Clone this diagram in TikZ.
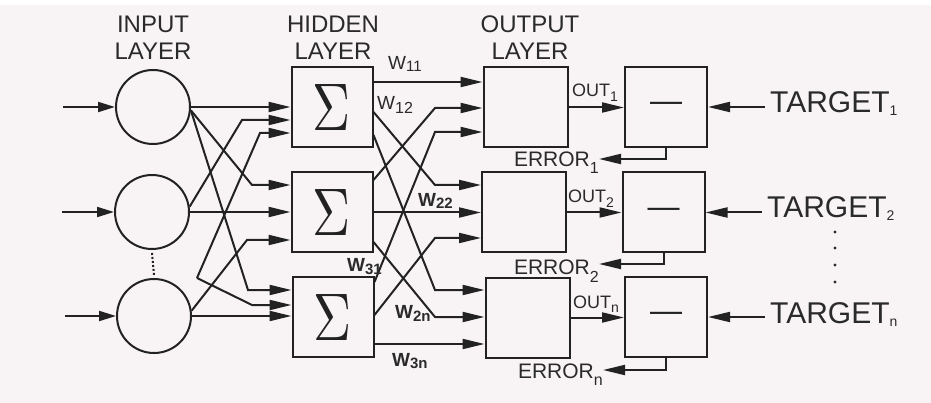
\documentclass[tikz,border=0pt]{standalone}
\usepackage[no-math]{fontspec}
\setmainfont{Liberation Sans}
\usetikzlibrary{arrows.meta}
\definecolor{bgc}{RGB}{248,244,245}
\definecolor{ink}{RGB}{34,34,34}
\definecolor{txt}{RGB}{42,42,42}
\newcommand\sbs[3]{\raisebox{-#2pt}{\fontsize{#1}{#1}\selectfont #3}}
\newcommand\Sg{\resizebox{38pt}{46pt}{$\Sigma$}}
\tikzset{
  ln/.style={draw=ink, line width=2pt},
  arr/.style={ln, -{Triangle[length=22pt,width=10pt]}},
  arrs/.style={ln, -{Triangle[length=17pt,width=10pt]}},
  inp/.style={ln, circle, minimum size=74pt, inner sep=0pt},
  hbox/.style={ln, rectangle, minimum width=81pt, minimum height=80pt, inner sep=0pt, text=ink},
  obox/.style={ln, rectangle, minimum width=84pt, minimum height=80pt, inner sep=0pt},
  sbox/.style={ln, rectangle, minimum width=82pt, minimum height=80pt, inner sep=0pt, text=ink, font=\fontsize{32}{32}\selectfont},
  lay/.style={font=\fontsize{24}{27}\selectfont, text=txt, align=center, inner sep=0pt, anchor=north},
  wl/.style={font=\fontsize{19}{19}\selectfont, text=txt, inner sep=0pt, anchor=base west},
  wlb/.style={wl, font=\fontsize{19}{19}\selectfont\bfseries},
  ol/.style={font=\fontsize{18}{18}\selectfont, text=txt, inner sep=0pt, anchor=base west},
  el/.style={font=\fontsize{21}{21}\selectfont, text=txt, inner sep=0pt, anchor=base east},
  tl/.style={font=\fontsize{30}{30}\selectfont, text=txt, inner xsep=5pt, inner ysep=0pt, anchor=base west},
}
\begin{document}
\begin{tikzpicture}[x=1pt,y=-1pt]
\fill[bgc] (0,0) rectangle (931,403);
\fill[white] (0,0) rectangle (931,5);
\useasboundingbox (0,0) rectangle (931,403);

% layer titles
\node[lay] (tin) at (153,15.5) {INPUT\\LAYER};
\node[lay] (thid) at (333,15.5) {HIDDEN\\LAYER};
\node[lay] (tout) at (530,15.5) {OUTPUT\\LAYER};

% input neurons
\node[inp] (c1) at (153,107) {};
\node[inp] (c2) at (152,212) {};
\node[inp] (c3) at (154,316) {};
\draw[ink, line width=2pt, dotted] ([yshift=-3pt]c2.south) -- ([yshift=3pt]c3.north);

% hidden layer
\node[hbox] (h1) at (332,107.5) {\Sg};
\node[hbox] (h2) at (332,212.5) {\Sg};
\node[hbox] (h3) at (333,317) {\Sg};

% output layer
\node[obox] (o1) at (525.5,107.5) {};
\node[obox] (o2) at (524,212.5) {};
\node[obox] (o3) at (527.5,317.5) {};

% subtractors
\node[sbox] (s1) at (666,107) {—};
\node[sbox] (s2) at (663.5,212.5) {—};
\node[sbox] (s3) at (666,317) {—};

% inputs
\coordinate (i1) at (63,107);
\coordinate (i2) at (62,212);
\coordinate (i3) at (65,316);
\draw[arrs] (i1) -- (c1.west);
\draw[arrs] (i2) -- (c2.west);
\draw[arrs] (i3) -- (c3.west);

% input -> hidden
\coordinate (v) at (197,278);
\draw[arr] (c1.east) -- (c1.east -| h1.west);
\draw[arr] (c1.-5) -- (252,185) -- (h2.west |- 0,185);
\draw[arr] (c1.-5) -- (248,290) -- (h3.west |- 0,290);
\draw[arr] (c2.8) -- (242,120) -- (h1.west |- 0,120);
\draw[arr] (c2.east) -- (c2.east -| h2.west);
\draw[arr] (v) -- (260,133) -- (h1.west |- 0,133);
\draw[arr] (v) -- (252,305) -- (h3.west |- 0,305);
\draw[arr] (c3.8) -- (247,240) -- (h2.west |- 0,240);
\draw[arr] (c3.east) -- (c3.east -| h3.west);

% hidden -> output
\draw[arr] (h1.east |- 0,82) -- (o1.west |- 0,82);
\draw[arr] (h1.east |- 0,112) -- (435,185) -- (o2.west |- 0,185);
\draw[arr] (h1.east |- 0,135) -- (435,290) -- (o3.west |- 0,290);
\draw[arr] (h2.east |- 0,180) -- (435,108) -- (o1.west |- 0,108);
\draw[arr] (h2.east) -- (h2.east -| o2.west);
\draw[arr] (h2.east |- 0,242) -- (435,317) -- (o3.west |- 0,317);
\draw[arr] (h3.east |- 0,282) -- (435,132) -- (o1.west |- 0,132);
\draw[arr] (h3.east |- 0,315) -- (435,238) -- (o2.west |- 0,238);
\draw[arr] (h3.east |- 0,344) -- (o3.west |- 0,344);

% weight labels
\node[wl] (w11) at (388,70) {W\sbs{15}{2}{11}};
\node[wl] (w12) at (377,110) {W\sbs{16}{4}{12}};
\node[wlb] (w22) at (418,207) {W\sbs{15}{2}{22}};
\node[wlb] (w31) at (347,272) {W\sbs{15}{3}{31}};
\node[wlb] (w2n) at (395,318) {W\sbs{15}{3}{2n}};
\node[wlb] (w3n) at (392,366) {W\sbs{15}{2}{3n}};

% output -> subtractor
\draw[arr] (o1.east) -- (o1.east -| s1.west);
\draw[arr] (o2.east) -- (o2.east -| s2.west);
\draw[arr] (o3.east) -- (o3.east -| s3.west);
\node[ol] (out1) at (572,97) {OUT\sbs{14}{5}{1}};
\node[ol] (out2) at (568,203) {OUT\sbs{14}{5}{2}};
\node[ol] (outn) at (573,308) {OUT\sbs{14}{5}{n}};

% errors
\node[el] (e1) at (599,167) {ERROR\sbs{16}{7}{1}};
\node[el] (e2) at (599,275) {ERROR\sbs{16}{7}{2}};
\node[el] (en) at (603,378) {ERROR\sbs{16}{7}{n}};
\draw[arr] (s1.south) |- (e1.east |- 0,159);
\draw[arr] (s2.south) |- (e2.east |- 0,264);
\draw[arr] (s3.south) |- (en.east |- 0,370);

% targets
\node[tl] (t1) at (765,113) {TARGET\sbs{14}{3}{1}};
\node[tl] (t2) at (762,218) {TARGET\sbs{14}{3}{2}};
\node[tl] (tn) at (765,323) {TARGET\sbs{14}{3}{n}};
\draw[arr] (t1.west |- s1.east) -- (s1.east);
\draw[arr] (t2.west |- s2.east) -- (s2.east);
\draw[arr] (tn.west |- s3.east) -- (s3.east);

% vertical dots
\foreach \yy in {232,248,265,282} \fill[txt] (835,\yy) circle (1.6pt);
\end{tikzpicture}
\end{document}
